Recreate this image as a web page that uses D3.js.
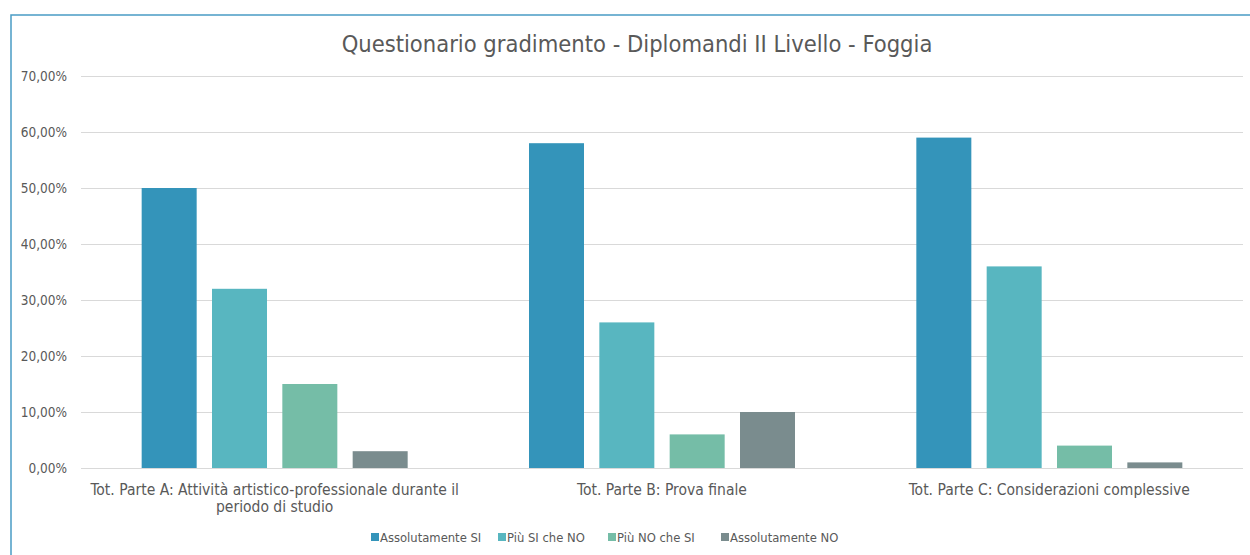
<!DOCTYPE html>
<html>
<head>
<meta charset="utf-8">
<script src="https://cdn.jsdelivr.net/npm/d3@7"></script>
<style>
  body { margin: 0; background: #fff; }
  text { font-family: "DejaVu Sans Condensed", "DejaVu Sans", sans-serif; fill: #595959; }
</style>
</head>
<body>
<div class="container"></div>
<script>
const WIDTH = 1250;
const HEIGHT = 555;

// data
var categories = [
  ["Tot. Parte A: Attività artistico-professionale durante il", "periodo di studio"],
  ["Tot. Parte B: Prova finale"],
  ["Tot. Parte C: Considerazioni complessive"]
];
var seriesNames = ["Assolutamente SI", "Più SI che NO", "Più NO che SI", "Assolutamente NO"];
var seriesColors = ["#3494ba", "#58b6c0", "#75bda7", "#7a8c8e"];
var assolSi = [0.50, 0.58, 0.59];
var piuSi = [0.32, 0.26, 0.36];
var piuNo = [0.15, 0.06, 0.04];
var assolNo = [0.03, 0.10, 0.01];
var yTicks = [0, 0.1, 0.2, 0.3, 0.4, 0.5, 0.6, 0.7];

var load = function(){
  var values = [assolSi, piuSi, piuNo, assolNo];

  var svg = d3.select(".container").append("svg")
    .attr("width", WIDTH)
    .attr("height", HEIGHT);

  // chart border
  svg.append("rect")
    .attr("x", 11).attr("y", 15)
    .attr("width", 1260).attr("height", 560)
    .attr("fill", "none")
    .attr("stroke", "#4a9cc5")
    .attr("stroke-width", 1.5);

  var xScale = d3.scaleBand()
    .domain(d3.range(categories.length))
    .range([81, 1243]);

  var inner = d3.scaleBand()
    .domain(d3.range(seriesNames.length))
    .range([0, 266])
    .paddingInner(0.218);

  var yScale = d3.scaleLinear()
    .domain([0, 0.7])
    .range([468, 76]);

  var fmt = function(d){ return d3.format(".2f")(d * 100).replace(".", ",") + "%"; };

  // grid + y labels
  var yAxis = d3.axisLeft(yScale)
    .tickValues(yTicks)
    .tickSize(-(1243 - 81))
    .tickPadding(14)
    .tickFormat(fmt);

  var yAxisGroup = svg.append("g")
    .attr("transform", "translate(81,0)")
    .call(yAxis);
  yAxisGroup.select(".domain").remove();
  yAxisGroup.selectAll(".tick line").attr("stroke", "#d9d9d9");
  yAxisGroup.selectAll(".tick text")
    .attr("font-size", 13.5)
    .attr("font-family", "DejaVu Sans Condensed")
    .attr("fill", "#595959");

  // bars
  var groups = svg.selectAll(".cat").data(categories)
    .enter().append("g")
    .attr("transform", function(d, i){
      return "translate(" + (xScale(i) + xScale.bandwidth() / 2 - 133) + ",0)";
    });

  groups.selectAll("rect")
    .data(function(d, i){ return values.map(function(v, s){ return {s: s, v: v[i]}; }); })
    .enter().append("rect")
    .attr("x", function(d){ return inner(d.s); })
    .attr("width", inner.bandwidth())
    .attr("y", function(d){ return yScale(d.v); })
    .attr("height", function(d){ return yScale(0) - yScale(d.v); })
    .attr("fill", function(d){ return seriesColors[d.s]; });

  // category labels
  groups.each(function(lines, i){
    var t = d3.select(this).append("text")
      .attr("x", 133)
      .attr("y", 494.5)
      .attr("text-anchor", "middle")
      .attr("font-size", 15.5);
    t.selectAll("tspan").data(lines).enter().append("tspan")
      .attr("x", 133)
      .attr("dy", function(d, j){ return j === 0 ? 0 : 17; })
      .text(function(d){ return d; });
  });

  // title
  svg.append("text")
    .attr("x", 637).attr("y", 52)
    .attr("text-anchor", "middle")
    .attr("font-size", 23.5)
    .text("Questionario gradimento - Diplomandi II Livello - Foggia");

  // legend
  var legendX = [371, 498, 608, 721];
  var legend = svg.selectAll(".leg").data(seriesNames)
    .enter().append("g")
    .attr("transform", function(d, i){ return "translate(" + legendX[i] + ",537)"; });
  legend.append("rect")
    .attr("x", 0).attr("y", -4)
    .attr("width", 8).attr("height", 8)
    .attr("fill", function(d, i){ return seriesColors[i]; });
  legend.append("text")
    .attr("x", 9).attr("y", 5)
    .attr("font-size", 12.9)
    .text(function(d){ return d; });
};

window.onload = load;
</script>
</body>
</html>
